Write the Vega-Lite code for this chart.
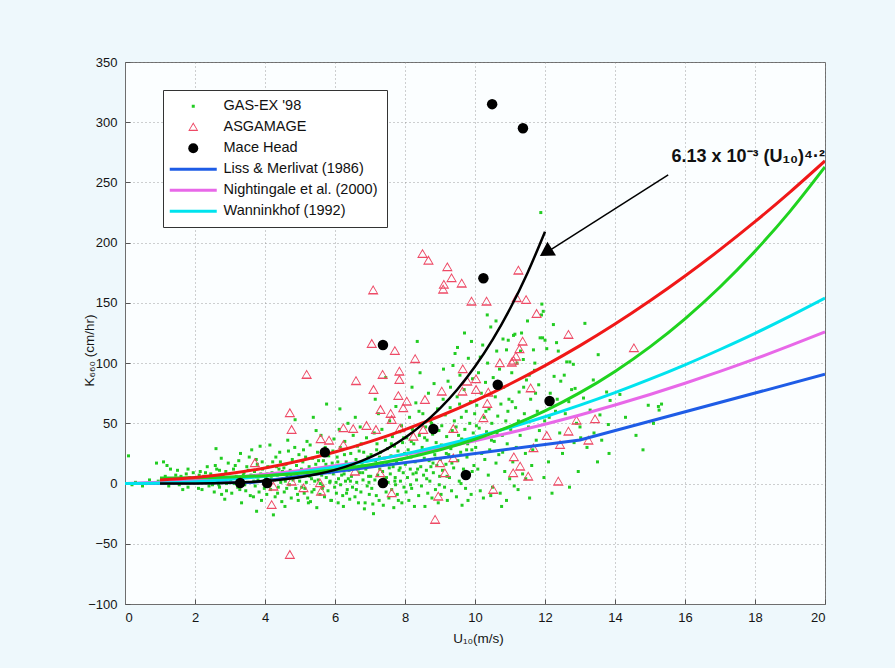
{
"$schema": "https://vega.github.io/schema/vega-lite/v6.json",
"width": 700, "height": 542,
"autosize": {"type": "none"},
"padding": {"left": 125, "top": 62, "right": 70, "bottom": 64},
"background": "#eef8fc",
"config": {
  "font": "Liberation Sans",
  "view": {"fill": "#fbfeff", "stroke": "#6e6e6e", "strokeWidth": 1},
  "axis": {"domainColor": "#6e6e6e", "tickColor": "#555555", "tickSize": -5, "labelFontSize": 13, "labelColor": "#151515", "labelFont": "Liberation Sans", "grid": true, "gridColor": "#8a8a8a", "gridDash": [1, 3], "gridOpacity": 0.8, "titleFontSize": 13.5, "titleFontWeight": "normal", "titleColor": "#151515", "titleFont": "Liberation Sans"},
  "legend": {"orient": "none", "legendX": 38, "legendY": 28, "padding": 9, "strokeColor": "#333333", "fillColor": "#ffffff", "labelFontSize": 14.5, "labelColor": "#111111", "labelFont": "Liberation Sans", "rowPadding": 6, "symbolSize": 100, "symbolOffset": 14, "labelOffset": 23, "labelLimit": 300, "symbolOpacity": 1, "symbolStrokeWidth": 0}
},
"datasets": {
"gas": [
{"u":0.1,"k":23},{"u":0.3,"k":1},{"u":0.5,"k":-2},{"u":0.7,"k":3},{"u":0.9,"k":17},{"u":0.95,"k":2},{"u":0.6,"k":0},{"u":0.2,"k":-1},
{"u":1.05,"k":4},{"u":1.1,"k":18},{"u":1.2,"k":15},{"u":1.3,"k":12},{"u":1.4,"k":3},{"u":1.5,"k":11},{"u":1.55,"k":-1},{"u":1.6,"k":6},{"u":1.7,"k":2},{"u":1.75,"k":8},{"u":1.8,"k":-3},{"u":1.85,"k":5},{"u":1.9,"k":1},{"u":1.95,"k":9},{"u":1.25,"k":-2},{"u":1.45,"k":7},{"u":1.65,"k":-5},{"u":1.35,"k":1},{"u":1.15,"k":6},{"u":1.8,"k":12},
{"u":2.05,"k":3},{"u":2.1,"k":-4},{"u":2.15,"k":10},{"u":2.2,"k":-5},{"u":2.25,"k":6},{"u":2.3,"k":1},{"u":2.35,"k":14},{"u":2.4,"k":-2},{"u":2.45,"k":8},{"u":2.5,"k":4},{"u":2.55,"k":-7},{"u":2.6,"k":29},{"u":2.62,"k":12},{"u":2.65,"k":2},{"u":2.7,"k":-3},{"u":2.75,"k":21},{"u":2.76,"k":-9},{"u":2.8,"k":7},{"u":2.85,"k":-13},{"u":2.9,"k":0},{"u":2.95,"k":17},{"u":2.98,"k":5},{"u":2.3,"k":9},{"u":2.5,"k":-1},{"u":2.7,"k":11},{"u":2.2,"k":2},{"u":2.4,"k":5},{"u":2.9,"k":-6},{"u":2.12,"k":7},{"u":2.58,"k":15},{"u":2.68,"k":-1},{"u":2.88,"k":10},
{"u":3.02,"k":3},{"u":3.05,"k":-8},{"u":3.1,"k":12},{"u":3.12,"k":0},{"u":3.18,"k":6},{"u":3.22,"k":-3},{"u":3.25,"k":19},{"u":3.3,"k":25},{"u":3.33,"k":-16},{"u":3.35,"k":4},{"u":3.4,"k":9},{"u":3.45,"k":-6},{"u":3.48,"k":14},{"u":3.5,"k":1},{"u":3.55,"k":22},{"u":3.58,"k":-10},{"u":3.62,"k":28},{"u":3.65,"k":6},{"u":3.67,"k":-11},{"u":3.7,"k":10},{"u":3.72,"k":-2},{"u":3.76,"k":-23},{"u":3.78,"k":16},{"u":3.8,"k":3},{"u":3.83,"k":-7},{"u":3.86,"k":31},{"u":3.88,"k":8},{"u":3.9,"k":-14},{"u":3.93,"k":12},{"u":3.96,"k":2},{"u":3.98,"k":-4},{"u":3.15,"k":15},{"u":3.42,"k":-1},{"u":3.6,"k":7},{"u":3.75,"k":20},{"u":3.08,"k":5},{"u":3.28,"k":-5},{"u":3.52,"k":11},{"u":3.68,"k":2},{"u":3.92,"k":18},{"u":3.38,"k":7},
{"u":4.02,"k":5},{"u":4.05,"k":-9},{"u":4.08,"k":14},{"u":4.1,"k":0},{"u":4.14,"k":32},{"u":4.16,"k":-5},{"u":4.2,"k":9},{"u":4.22,"k":18},{"u":4.24,"k":-26},{"u":4.27,"k":3},{"u":4.29,"k":-11},{"u":4.31,"k":22},{"u":4.35,"k":7},{"u":4.38,"k":-3},{"u":4.4,"k":12},{"u":4.42,"k":26},{"u":4.45,"k":1},{"u":4.48,"k":-15},{"u":4.5,"k":10},{"u":4.52,"k":4},{"u":4.55,"k":-7},{"u":4.57,"k":-19},{"u":4.6,"k":16},{"u":4.63,"k":6},{"u":4.65,"k":36},{"u":4.67,"k":27},{"u":4.7,"k":-1},{"u":4.72,"k":11},{"u":4.75,"k":-12},{"u":4.78,"k":20},{"u":4.8,"k":3},{"u":4.83,"k":8},{"u":4.86,"k":53},{"u":4.88,"k":-4},{"u":4.9,"k":15},{"u":4.93,"k":-9},{"u":4.95,"k":-14},{"u":4.97,"k":24},{"u":4.99,"k":2},{"u":4.12,"k":-2},{"u":4.33,"k":14},{"u":4.58,"k":2},{"u":4.85,"k":30},{"u":4.06,"k":8},{"u":4.18,"k":4},{"u":4.36,"k":-8},{"u":4.44,"k":18},{"u":4.62,"k":-4},{"u":4.74,"k":7},{"u":4.91,"k":5},{"u":4.54,"k":13},
{"u":5.02,"k":6},{"u":5.05,"k":-3},{"u":5.08,"k":18},{"u":5.1,"k":28},{"u":5.12,"k":-8},{"u":5.15,"k":10},{"u":5.18,"k":1},{"u":5.2,"k":35},{"u":5.22,"k":-12},{"u":5.24,"k":-16},{"u":5.26,"k":14},{"u":5.29,"k":32},{"u":5.3,"k":-15},{"u":5.33,"k":4},{"u":5.36,"k":21},{"u":5.38,"k":55},{"u":5.4,"k":-5},{"u":5.43,"k":9},{"u":5.45,"k":16},{"u":5.48,"k":-20},{"u":5.5,"k":26},{"u":5.52,"k":3},{"u":5.55,"k":12},{"u":5.57,"k":-9},{"u":5.6,"k":40},{"u":5.62,"k":7},{"u":5.65,"k":-2},{"u":5.67,"k":19},{"u":5.7,"k":-11},{"u":5.72,"k":30},{"u":5.75,"k":5},{"u":5.76,"k":66},{"u":5.78,"k":13},{"u":5.8,"k":-6},{"u":5.82,"k":23},{"u":5.85,"k":1},{"u":5.88,"k":-14},{"u":5.9,"k":-14},{"u":5.92,"k":17},{"u":5.95,"k":8},{"u":5.97,"k":37},{"u":5.99,"k":-3},{"u":5.14,"k":-4},{"u":5.46,"k":44},{"u":5.68,"k":11},{"u":5.86,"k":2},{"u":5.04,"k":12},{"u":5.16,"k":22},{"u":5.28,"k":6},{"u":5.34,"k":-7},{"u":5.42,"k":2},{"u":5.53,"k":19},{"u":5.64,"k":-4},{"u":5.74,"k":16},{"u":5.84,"k":9},{"u":5.94,"k":27},{"u":5.58,"k":0},
{"u":6.02,"k":10},{"u":6.04,"k":-8},{"u":6.06,"k":22},{"u":6.09,"k":-16},{"u":6.1,"k":4},{"u":6.12,"k":45},{"u":6.14,"k":62},{"u":6.16,"k":-1},{"u":6.18,"k":15},{"u":6.2,"k":28},{"u":6.22,"k":-10},{"u":6.24,"k":-19},{"u":6.26,"k":8},{"u":6.28,"k":35},{"u":6.3,"k":2},{"u":6.32,"k":18},{"u":6.35,"k":-5},{"u":6.37,"k":50},{"u":6.4,"k":11},{"u":6.42,"k":-13},{"u":6.45,"k":25},{"u":6.47,"k":6},{"u":6.5,"k":-3},{"u":6.52,"k":40},{"u":6.55,"k":14},{"u":6.57,"k":-11},{"u":6.6,"k":20},{"u":6.62,"k":1},{"u":6.64,"k":31},{"u":6.67,"k":-16},{"u":6.7,"k":9},{"u":6.72,"k":47},{"u":6.74,"k":-7},{"u":6.77,"k":17},{"u":6.8,"k":3},{"u":6.82,"k":26},{"u":6.84,"k":-21},{"u":6.86,"k":-16},{"u":6.88,"k":12},{"u":6.9,"k":38},{"u":6.92,"k":-2},{"u":6.94,"k":22},{"u":6.96,"k":6},{"u":6.98,"k":-9},{"u":6.15,"k":30},{"u":6.33,"k":-8},{"u":6.58,"k":55},{"u":6.75,"k":33},{"u":6.08,"k":18},{"u":6.44,"k":2},{"u":6.66,"k":12},{"u":6.03,"k":1},{"u":6.19,"k":7},{"u":6.27,"k":24},{"u":6.38,"k":4},{"u":6.49,"k":16},{"u":6.61,"k":-5},{"u":6.69,"k":27},{"u":6.79,"k":9},{"u":6.91,"k":15},{"u":6.97,"k":1},
{"u":7.03,"k":24},{"u":7.05,"k":-4},{"u":7.07,"k":15},{"u":7.1,"k":-25},{"u":7.12,"k":42},{"u":7.14,"k":3},{"u":7.16,"k":19},{"u":7.18,"k":-10},{"u":7.2,"k":33},{"u":7.22,"k":7},{"u":7.24,"k":58},{"u":7.26,"k":-14},{"u":7.28,"k":12},{"u":7.3,"k":26},{"u":7.32,"k":-2},{"u":7.34,"k":45},{"u":7.36,"k":10},{"u":7.38,"k":-18},{"u":7.4,"k":21},{"u":7.42,"k":4},{"u":7.44,"k":36},{"u":7.46,"k":-7},{"u":7.48,"k":16},{"u":7.5,"k":29},{"u":7.52,"k":1},{"u":7.54,"k":-12},{"u":7.56,"k":52},{"u":7.58,"k":8},{"u":7.6,"k":23},{"u":7.62,"k":-5},{"u":7.64,"k":39},{"u":7.66,"k":14},{"u":7.68,"k":-20},{"u":7.7,"k":31},{"u":7.72,"k":5},{"u":7.74,"k":64},{"u":7.76,"k":18},{"u":7.78,"k":-9},{"u":7.8,"k":27},{"u":7.81,"k":-14},{"u":7.83,"k":11},{"u":7.85,"k":43},{"u":7.87,"k":2},{"u":7.89,"k":20},{"u":7.91,"k":-16},{"u":7.93,"k":34},{"u":7.95,"k":9},{"u":7.97,"k":-3},{"u":7.99,"k":25},{"u":7.15,"k":70},{"u":7.45,"k":88},{"u":7.27,"k":22},{"u":7.55,"k":13},{"u":7.71,"k":2},{"u":7.9,"k":48},{"u":7.08,"k":-17},{"u":7.02,"k":6},{"u":7.19,"k":28},{"u":7.33,"k":17},{"u":7.47,"k":5},{"u":7.61,"k":33},{"u":7.73,"k":-1},{"u":7.86,"k":13},{"u":7.96,"k":38},
{"u":8.01,"k":16},{"u":8.03,"k":-7},{"u":8.05,"k":38},{"u":8.07,"k":5},{"u":8.09,"k":28},{"u":8.11,"k":-14},{"u":8.13,"k":55},{"u":8.15,"k":12},{"u":8.17,"k":22},{"u":8.19,"k":-4},{"u":8.21,"k":45},{"u":8.23,"k":8},{"u":8.25,"k":33},{"u":8.27,"k":-19},{"u":8.29,"k":18},{"u":8.31,"k":67},{"u":8.33,"k":3},{"u":8.35,"k":118},{"u":8.37,"k":26},{"u":8.39,"k":-10},{"u":8.41,"k":40},{"u":8.43,"k":92},{"u":8.45,"k":14},{"u":8.47,"k":-2},{"u":8.49,"k":30},{"u":8.51,"k":58},{"u":8.53,"k":7},{"u":8.55,"k":21},{"u":8.57,"k":-19},{"u":8.59,"k":47},{"u":8.61,"k":11},{"u":8.63,"k":36},{"u":8.65,"k":-8},{"u":8.67,"k":75},{"u":8.69,"k":19},{"u":8.71,"k":2},{"u":8.73,"k":52},{"u":8.75,"k":27},{"u":8.77,"k":-12},{"u":8.79,"k":41},{"u":8.81,"k":9},{"u":8.83,"k":83},{"u":8.85,"k":24},{"u":8.87,"k":-5},{"u":8.89,"k":34},{"u":8.91,"k":15},{"u":8.93,"k":62},{"u":8.95,"k":-16},{"u":8.97,"k":44},{"u":8.99,"k":6},{"u":8.2,"k":80},{"u":8.4,"k":60},{"u":8.6,"k":28},{"u":8.8,"k":17},{"u":8.16,"k":-1},{"u":8.36,"k":12},{"u":8.56,"k":38},{"u":8.76,"k":50},{"u":8.92,"k":30},{"u":8.04,"k":24},{"u":8.18,"k":35},{"u":8.32,"k":9},{"u":8.46,"k":25},{"u":8.62,"k":4},{"u":8.74,"k":14},{"u":8.88,"k":21},{"u":8.98,"k":-1},
{"u":9.01,"k":20},{"u":9.03,"k":-9},{"u":9.05,"k":48},{"u":9.07,"k":11},{"u":9.09,"k":70},{"u":9.11,"k":31},{"u":9.13,"k":-3},{"u":9.15,"k":57},{"u":9.17,"k":16},{"u":9.19,"k":39},{"u":9.21,"k":-14},{"u":9.23,"k":85},{"u":9.25,"k":24},{"u":9.27,"k":5},{"u":9.29,"k":63},{"u":9.31,"k":29},{"u":9.33,"k":-6},{"u":9.35,"k":44},{"u":9.37,"k":98},{"u":9.39,"k":13},{"u":9.41,"k":52},{"u":9.43,"k":108},{"u":9.45,"k":34},{"u":9.47,"k":-11},{"u":9.49,"k":72},{"u":9.51,"k":19},{"u":9.53,"k":40},{"u":9.55,"k":2},{"u":9.57,"k":90},{"u":9.59,"k":26},{"u":9.61,"k":55},{"u":9.63,"k":-18},{"u":9.65,"k":36},{"u":9.67,"k":12},{"u":9.69,"k":78},{"u":9.71,"k":45},{"u":9.73,"k":-4},{"u":9.75,"k":60},{"u":9.77,"k":22},{"u":9.79,"k":33},{"u":9.81,"k":104},{"u":9.83,"k":8},{"u":9.85,"k":50},{"u":9.87,"k":68},{"u":9.89,"k":-9},{"u":9.91,"k":28},{"u":9.93,"k":87},{"u":9.95,"k":42},{"u":9.97,"k":15},{"u":9.99,"k":58},{"u":9.1,"k":95},{"u":9.3,"k":80},{"u":9.5,"k":113},{"u":9.7,"k":125},{"u":9.9,"k":118},{"u":9.2,"k":6},{"u":9.6,"k":0},{"u":9.8,"k":-14},{"u":9.04,"k":32},{"u":9.18,"k":25},{"u":9.34,"k":17},{"u":9.46,"k":47},{"u":9.62,"k":37},{"u":9.76,"k":28},{"u":9.92,"k":10},{"u":9.56,"k":66},
{"u":10.02,"k":30},{"u":10.05,"k":65},{"u":10.08,"k":12},{"u":10.1,"k":92},{"u":10.12,"k":46},{"u":10.15,"k":-6},{"u":10.18,"k":75},{"u":10.2,"k":38},{"u":10.22,"k":115},{"u":10.24,"k":-12},{"u":10.26,"k":55},{"u":10.28,"k":20},{"u":10.3,"k":84},{"u":10.33,"k":43},{"u":10.36,"k":100},{"u":10.38,"k":7},{"u":10.4,"k":62},{"u":10.42,"k":28},{"u":10.45,"k":130},{"u":10.48,"k":50},{"u":10.5,"k":-3},{"u":10.52,"k":88},{"u":10.55,"k":35},{"u":10.58,"k":72},{"u":10.6,"k":17},{"u":10.62,"k":110},{"u":10.65,"k":56},{"u":10.68,"k":24},{"u":10.7,"k":95},{"u":10.72,"k":-8},{"u":10.74,"k":66},{"u":10.76,"k":-19},{"u":10.78,"k":40},{"u":10.8,"k":120},{"u":10.82,"k":80},{"u":10.85,"k":10},{"u":10.88,"k":52},{"u":10.9,"k":111},{"u":10.92,"k":33},{"u":10.95,"k":119},{"u":10.97,"k":70},{"u":10.99,"k":4},{"u":10.35,"k":140},{"u":10.15,"k":105},{"u":10.6,"k":135},{"u":10.45,"k":-10},{"u":10.9,"k":-14},{"u":10.04,"k":48},{"u":10.19,"k":25},{"u":10.31,"k":60},{"u":10.47,"k":36},{"u":10.63,"k":42},{"u":10.79,"k":26},{"u":10.94,"k":60},
{"u":11.02,"k":45},{"u":11.05,"k":92},{"u":11.08,"k":18},{"u":11.1,"k":123},{"u":11.14,"k":124},{"u":11.16,"k":63},{"u":11.18,"k":30},{"u":11.2,"k":100},{"u":11.23,"k":-5},{"u":11.26,"k":76},{"u":11.29,"k":40},{"u":11.33,"k":125},{"u":11.36,"k":8},{"u":11.38,"k":103},{"u":11.41,"k":58},{"u":11.44,"k":25},{"u":11.47,"k":86},{"u":11.5,"k":135},{"u":11.53,"k":47},{"u":11.56,"k":-12},{"u":11.59,"k":70},{"u":11.62,"k":15},{"u":11.67,"k":111},{"u":11.7,"k":94},{"u":11.71,"k":100},{"u":11.75,"k":36},{"u":11.78,"k":60},{"u":11.82,"k":82},{"u":11.86,"k":121},{"u":11.88,"k":225},{"u":11.9,"k":140},{"u":11.91,"k":149},{"u":11.93,"k":121},{"u":11.95,"k":143},{"u":11.97,"k":5},{"u":11.99,"k":52},{"u":11.3,"k":110},{"u":11.65,"k":28},{"u":11.12,"k":-2},{"u":11.45,"k":4},{"u":11.06,"k":68},{"u":11.24,"k":52},{"u":11.39,"k":80},{"u":11.55,"k":90},{"u":11.73,"k":75},{"u":11.84,"k":44},
{"u":12.0,"k":119},{"u":12.05,"k":112},{"u":12.1,"k":18},{"u":12.15,"k":75},{"u":12.24,"k":132},{"u":12.26,"k":89},{"u":12.3,"k":60},{"u":12.33,"k":117},{"u":12.38,"k":110},{"u":12.42,"k":42},{"u":12.5,"k":25},{"u":12.55,"k":90},{"u":12.62,"k":101},{"u":12.68,"k":68},{"u":12.71,"k":101},{"u":12.76,"k":78},{"u":12.81,"k":99},{"u":12.83,"k":34},{"u":12.86,"k":79},{"u":12.9,"k":50},{"u":12.95,"k":10},{"u":12.2,"k":-8},{"u":12.7,"k":-3},{"u":12.45,"k":85},{"u":12.12,"k":55},{"u":12.35,"k":70},{"u":12.58,"k":58},
{"u":13.0,"k":47},{"u":13.02,"k":38},{"u":13.1,"k":71},{"u":13.14,"k":133},{"u":13.29,"k":61},{"u":13.38,"k":86},{"u":13.4,"k":42},{"u":13.52,"k":107},{"u":13.57,"k":57},{"u":13.62,"k":36},{"u":13.76,"k":76},{"u":13.81,"k":49},{"u":13.83,"k":25},{"u":13.86,"k":69},{"u":13.5,"k":18},{"u":13.2,"k":30},
{"u":14.14,"k":74},{"u":14.3,"k":55},{"u":14.6,"k":40},{"u":14.95,"k":65},{"u":15.24,"k":64},{"u":15.33,"k":66},{"u":15.26,"k":61},{"u":14.8,"k":28},{"u":15.1,"k":50}
],
"asg": [
{"u":4.71,"k":-59.3},{"u":4.19,"k":-17.8},{"u":3.71,"k":16.9},{"u":4.24,"k":-2.6},{"u":4.71,"k":58.4},{"u":4.76,"k":44.5},{"u":4.76,"k":1.6},{"u":5.1,"k":-3.9},{"u":5.19,"k":90.2},{"u":5.57,"k":0.2},{"u":5.6,"k":-6.7},{"u":5.59,"k":36.8},{"u":5.83,"k":35.6},{"u":6.24,"k":45.9},{"u":6.24,"k":32},{"u":6.52,"k":45.3},{"u":6.57,"k":9.9},{"u":6.6,"k":85},{"u":6.9,"k":47.8},{"u":7.05,"k":115.9},{"u":7.09,"k":160.4},{"u":7.1,"k":77.7},{"u":7.17,"k":44.5},{"u":7.29,"k":8.5},{"u":7.3,"k":61.1},{"u":7.36,"k":90.2},{"u":7.59,"k":57.8},{"u":7.62,"k":52.8},{"u":7.62,"k":-8.1},{"u":7.71,"k":110},{"u":7.81,"k":72.7},{"u":7.84,"k":92.9},{"u":7.84,"k":86},{"u":7.86,"k":45.9},{"u":7.95,"k":62.5},{"u":8.05,"k":68},{"u":8.24,"k":38.9},{"u":8.29,"k":103.3},{"u":8.5,"k":190.6},{"u":8.52,"k":44.5},{"u":8.57,"k":69.4},{"u":8.67,"k":185},{"u":8.86,"k":-30.2},{"u":8.95,"k":-10.9},{"u":9.0,"k":16.8},{"u":9.05,"k":76.3},{"u":9.09,"k":161},{"u":9.11,"k":165},{"u":9.14,"k":8.5},{"u":9.21,"k":179.6},{"u":9.33,"k":170.4},{"u":9.38,"k":45.3},{"u":9.38,"k":21},{"u":9.62,"k":166},{"u":9.64,"k":76.3},{"u":9.65,"k":94.9},{"u":9.78,"k":84.6},{"u":9.9,"k":151},{"u":10.03,"k":86.6},{"u":10.03,"k":77.7},{"u":10.24,"k":54.2},{"u":10.33,"k":151},{"u":10.35,"k":66.1},{"u":10.38,"k":75.5},{"u":10.52,"k":-5.3},{"u":10.71,"k":99.9},{"u":11.05,"k":100.4},{"u":11.09,"k":8.5},{"u":11.1,"k":102},{"u":11.11,"k":21.8},{"u":11.17,"k":105.4},{"u":11.19,"k":153.9},{"u":11.24,"k":176.8},{"u":11.27,"k":111.5},{"u":11.29,"k":14},{"u":11.36,"k":117.8},{"u":11.46,"k":152.4},{"u":11.52,"k":5.7},{"u":11.59,"k":79},{"u":11.67,"k":29.3},{"u":11.76,"k":140.8},{"u":12.05,"k":39.5},{"u":12.38,"k":1.6},{"u":12.43,"k":32},{"u":12.67,"k":123.4},{"u":12.67,"k":43.1},{"u":12.9,"k":52.2},{"u":13.24,"k":35.6},{"u":13.43,"k":53.4},{"u":14.54,"k":112.3}
],
"mace": [
{"u":3.29,"k":0.5},{"u":4.06,"k":0.5},{"u":5.71,"k":26},{"u":7.37,"k":115},{"u":7.37,"k":0.5},{"u":8.81,"k":45.3},{"u":9.74,"k":7.1},{"u":10.24,"k":170.5},{"u":10.49,"k":315},{"u":11.37,"k":295},{"u":10.65,"k":82},{"u":12.13,"k":68.6}
],
"liss": [{"u":0,"k":0},{"u":3.6,"k":0.81},{"u":13,"k":36.17},{"u":20,"k":90.7}],
"night": [{"u":0,"k":0},{"u":1,"k":1.09},{"u":2,"k":2.74},{"u":3,"k":4.93},{"u":4,"k":7.66},{"u":5,"k":10.95},{"u":6,"k":14.78},{"u":7,"k":19.17},{"u":8,"k":24.1},{"u":9,"k":29.57},{"u":10,"k":35.6},{"u":11,"k":42.17},{"u":12,"k":49.3},{"u":13,"k":56.97},{"u":14,"k":65.18},{"u":15,"k":73.95},{"u":16,"k":83.26},{"u":17,"k":93.13},{"u":18,"k":103.5},{"u":19,"k":114.5},{"u":20,"k":126.0}],
"wann": [{"u":0,"k":0},{"u":1,"k":0.39},{"u":2,"k":1.54},{"u":3,"k":3.47},{"u":4,"k":6.16},{"u":5,"k":9.63},{"u":6,"k":13.86},{"u":7,"k":18.87},{"u":8,"k":24.64},{"u":9,"k":31.19},{"u":10,"k":38.5},{"u":11,"k":46.59},{"u":12,"k":55.44},{"u":13,"k":65.07},{"u":14,"k":75.46},{"u":15,"k":86.63},{"u":16,"k":98.56},{"u":17,"k":111.3},{"u":18,"k":124.7},{"u":19,"k":139.0},{"u":20,"k":154.0}],
"red": [{"u":1,"k":2.96},{"u":2,"k":4.96},{"u":3,"k":8.28},{"u":4,"k":12.92},{"u":5,"k":18.9},{"u":6,"k":26.2},{"u":7,"k":34.84},{"u":8,"k":44.8},{"u":9,"k":56.08},{"u":10,"k":68.7},{"u":11,"k":82.64},{"u":12,"k":97.92},{"u":13,"k":114.5},{"u":14,"k":132.4},{"u":15,"k":151.7},{"u":16,"k":172.3},{"u":17,"k":194.2},{"u":18,"k":217.4},{"u":19,"k":242.0},{"u":20,"k":267.9}],
"grn": [{"u":1,"k":4.53},{"u":2,"k":4.76},{"u":3,"k":5.37},{"u":4,"k":6.57},{"u":5,"k":8.54},{"u":6,"k":11.48},{"u":7,"k":15.58},{"u":8,"k":21.04},{"u":9,"k":28.05},{"u":10,"k":36.8},{"u":11,"k":47.49},{"u":12,"k":60.31},{"u":13,"k":75.46},{"u":14,"k":93.13},{"u":15,"k":113.5},{"u":16,"k":136.8},{"u":17,"k":163.2},{"u":18,"k":192.9},{"u":19,"k":226.0},{"u":20,"k":262.9}],
"blk": [{"u":1,"k":0.006},{"u":2,"k":0.113},{"u":3,"k":0.619},{"u":4,"k":2.07},{"u":5,"k":5.29},{"u":6,"k":11.37},{"u":6.5,"k":15.91},{"u":7,"k":21.72},{"u":7.5,"k":28.99},{"u":8,"k":38.05},{"u":8.5,"k":49.11},{"u":9,"k":62.41},{"u":9.5,"k":78.33},{"u":10,"k":97.15},{"u":10.5,"k":119.3},{"u":11,"k":145.1},{"u":11.5,"k":174.9},{"u":12,"k":209.1}],
"arrow": [{"u":15.52,"k":256.2},{"u":12.1,"k":193}],
"head": [{"u":12.08,"k":193}],
"label": [{"u":20,"k":271,"t":"6.13 x 10⁻³ (U₁₀)⁴·²"}]
},
"encoding": {
  "x": {"field": "u", "type": "quantitative", "scale": {"domain": [0, 20], "nice": false, "zero": false},
        "axis": {"values": [0,2,4,6,8,10,12,14,16,18,20], "labelPadding": 12, "title": "U₁₀(m/s)", "titleX": 353, "titleY": 34, "titleBaseline": "middle"}},
  "y": {"field": "k", "type": "quantitative", "scale": {"domain": [-100, 350], "nice": false, "zero": false},
        "axis": {"values": [-100,-50,0,50,100,150,200,250,300,350], "labelPadding": 13, "title": "K₆₆₀ (cm/hr)", "titleX": -36, "titleY": 288, "titleAngle": -90, "titleAlign": "center", "titleBaseline": "middle"}}
},
"layer": [
  {"data": {"name": "gas"}, "mark": {"type": "point", "filled": true, "size": 100, "opacity": 1, "strokeWidth": 0, "clip": true},
   "encoding": {
     "color": {"datum": "GAS-EX '98", "type": "nominal", "legend": {"title": null},
       "scale": {"domain": ["GAS-EX '98", "ASGAMAGE", "Mace Head", "Liss & Merlivat (1986)", "Nightingale et al. (2000)", "Wanninkhof (1992)"],
                 "range": ["#22cc22", "#ee4a66", "#000000", "#1e5ce6", "#e868e8", "#00e3ee"]}},
     "shape": {"datum": "GAS-EX '98", "type": "nominal", "legend": {"title": null},
       "scale": {"domain": ["GAS-EX '98", "ASGAMAGE", "Mace Head", "Liss & Merlivat (1986)", "Nightingale et al. (2000)", "Wanninkhof (1992)"],
                 "range": ["M-0.3,-0.3H0.3V0.3H-0.3Z", "M0,-1L1,0.75L-1,0.75Z M0,-0.62L-0.68,0.5L0.68,0.5Z", "circle", "M-4.7,-0.3H4.7V0.3H-4.7Z", "M-4.7,-0.3H4.7V0.3H-4.7Z", "M-4.7,-0.3H4.7V0.3H-4.7Z"]}}
   }},
  {"data": {"name": "asg"}, "mark": {"type": "point", "filled": true, "size": 115, "opacity": 1, "strokeWidth": 0, "clip": true},
   "encoding": {
     "color": {"datum": "ASGAMAGE", "type": "nominal", "legend": null},
     "shape": {"datum": "ASGAMAGE", "type": "nominal", "legend": null}
   }},
  {"data": {"name": "liss"}, "mark": {"type": "line", "strokeWidth": 3, "clip": true},
   "encoding": {"color": {"datum": "Liss & Merlivat (1986)", "type": "nominal", "legend": null}}},
  {"data": {"name": "night"}, "mark": {"type": "line", "strokeWidth": 3, "interpolate": "monotone", "clip": true},
   "encoding": {"color": {"datum": "Nightingale et al. (2000)", "type": "nominal", "legend": null}}},
  {"data": {"name": "wann"}, "mark": {"type": "line", "strokeWidth": 3, "interpolate": "monotone", "clip": true},
   "encoding": {"color": {"datum": "Wanninkhof (1992)", "type": "nominal", "legend": null}}},
  {"data": {"name": "grn"}, "mark": {"type": "line", "strokeWidth": 3, "color": "#1fd31f", "interpolate": "monotone", "clip": true}, "encoding": {}},
  {"data": {"name": "red"}, "mark": {"type": "line", "strokeWidth": 3, "color": "#f01818", "interpolate": "monotone", "clip": true}, "encoding": {}},
  {"data": {"name": "blk"}, "mark": {"type": "line", "strokeWidth": 2.5, "color": "#000000", "interpolate": "monotone", "clip": true}, "encoding": {}},
  {"data": {"name": "mace"}, "mark": {"type": "point", "filled": true, "size": 110, "opacity": 1, "strokeWidth": 0, "clip": true},
   "encoding": {
     "color": {"datum": "Mace Head", "type": "nominal", "legend": null},
     "shape": {"datum": "Mace Head", "type": "nominal", "legend": null}
   }},
  {"data": {"name": "arrow"}, "mark": {"type": "line", "strokeWidth": 1.5, "color": "#000000"}, "encoding": {}},
  {"data": {"name": "head"}, "mark": {"type": "point", "shape": "triangle", "filled": true, "size": 260, "angle": 238, "color": "#000000", "opacity": 1}, "encoding": {}},
  {"data": {"name": "label"}, "mark": {"type": "text", "align": "right", "baseline": "middle", "fontSize": 18, "fontWeight": "bold", "font": "Liberation Sans", "color": "#111111"},
   "encoding": {"text": {"field": "t"}}}
]
}
